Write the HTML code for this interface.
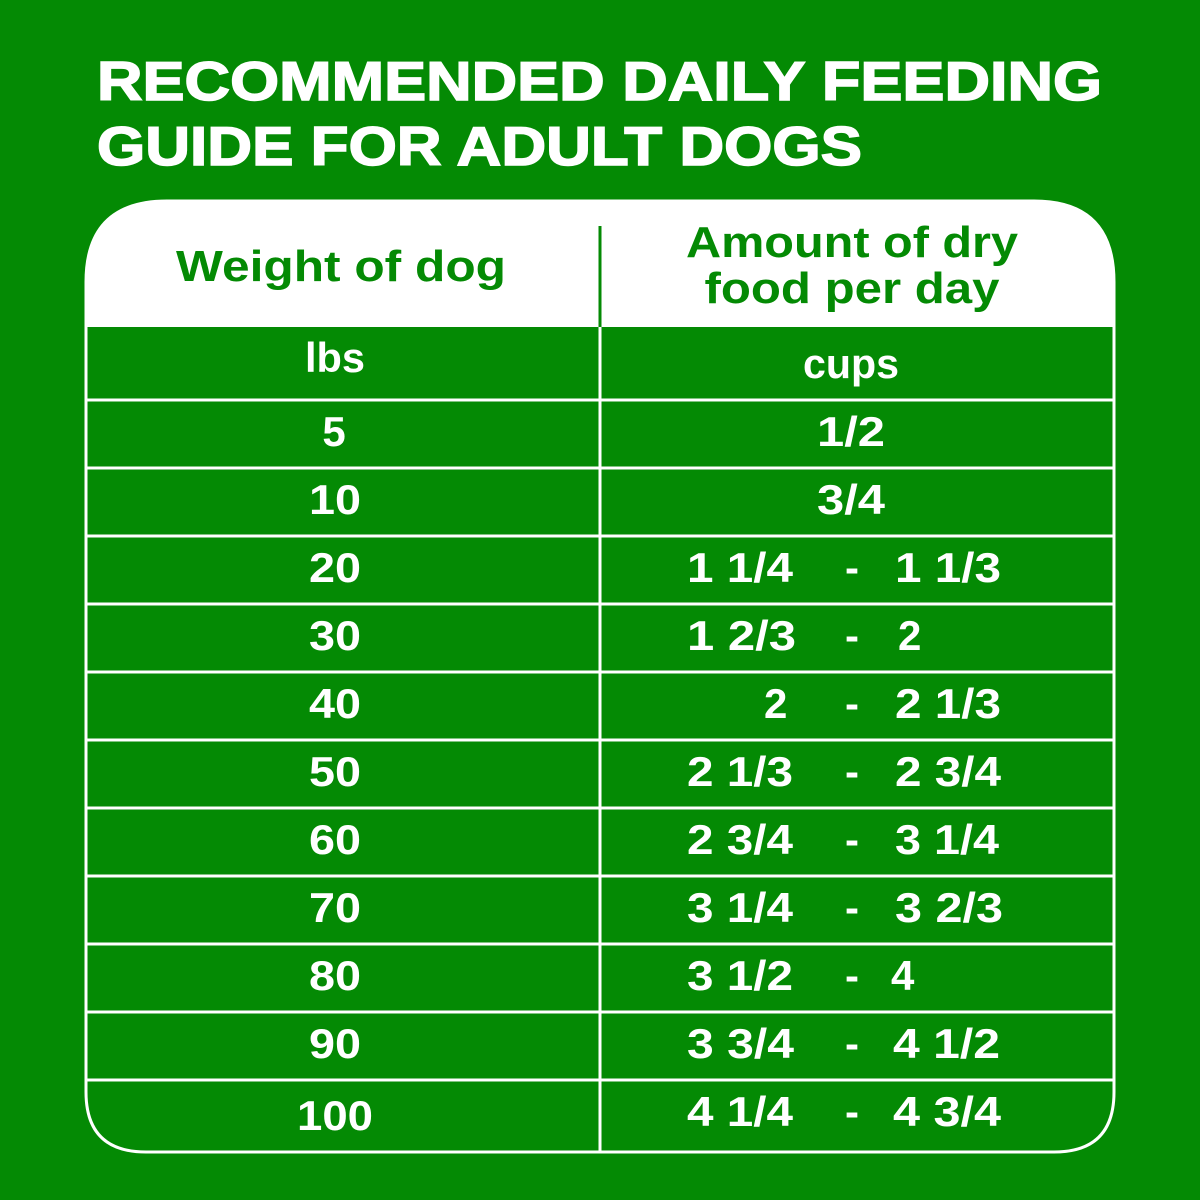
<!DOCTYPE html>
<html><head><meta charset="utf-8"><style>
html,body{margin:0;padding:0;background:#048a04;}
svg{display:block}
text{font-family:"Liberation Sans",sans-serif;font-weight:bold;}
</style></head><body>
<svg width="1200" height="1200" viewBox="0 0 1200 1200" xmlns="http://www.w3.org/2000/svg">
<rect width="1200" height="1200" fill="#048a04"/>
<text x="97" y="100" font-size="55" fill="#fff" textLength="1005" lengthAdjust="spacingAndGlyphs" stroke="#fff" stroke-width="1.5">RECOMMENDED DAILY FEEDING</text>
<text x="97" y="165" font-size="55" fill="#fff" textLength="765" lengthAdjust="spacingAndGlyphs" stroke="#fff" stroke-width="1.5">GUIDE FOR ADULT DOGS</text>
<path d="M86,1092 L86,282 Q86,201 167,201 L1034,201 Q1114,201 1114,282 L1114,1092 Q1114,1152 1054,1152 L146,1152 Q86,1152 86,1092 Z" fill="#048a04" stroke="#fff" stroke-width="3"/>
<path d="M86,327 L86,282 Q86,201 167,201 L1034,201 Q1114,201 1114,282 L1114,327 Z" fill="#fff"/>
<line x1="600" y1="226" x2="600" y2="327" stroke="#048a04" stroke-width="3"/>
<line x1="600" y1="327" x2="600" y2="1152" stroke="#fff" stroke-width="3"/>
<g stroke="#fff" stroke-width="3">
<line x1="86" y1="400" x2="1114" y2="400"/>
<line x1="86" y1="468" x2="1114" y2="468"/>
<line x1="86" y1="536" x2="1114" y2="536"/>
<line x1="86" y1="604" x2="1114" y2="604"/>
<line x1="86" y1="672" x2="1114" y2="672"/>
<line x1="86" y1="740" x2="1114" y2="740"/>
<line x1="86" y1="808" x2="1114" y2="808"/>
<line x1="86" y1="876" x2="1114" y2="876"/>
<line x1="86" y1="944" x2="1114" y2="944"/>
<line x1="86" y1="1012" x2="1114" y2="1012"/>
<line x1="86" y1="1080" x2="1114" y2="1080"/>
</g>
<text x="341" y="281" font-size="44" fill="#048a04" text-anchor="middle" textLength="330" lengthAdjust="spacingAndGlyphs">Weight of dog</text>
<text x="852" y="257" font-size="44" fill="#048a04" text-anchor="middle" textLength="332" lengthAdjust="spacingAndGlyphs">Amount of dry</text>
<text x="852" y="303" font-size="44" fill="#048a04" text-anchor="middle" textLength="295" lengthAdjust="spacingAndGlyphs">food per day</text>
<g font-size="42" fill="#fff" text-anchor="middle" lengthAdjust="spacingAndGlyphs">
<text x="335" y="372" textLength="60" lengthAdjust="spacingAndGlyphs">lbs</text>
<text x="851" y="378" textLength="96" lengthAdjust="spacingAndGlyphs">cups</text>
<text x="334" y="446">5</text><text x="851" y="446" textLength="68" lengthAdjust="spacingAndGlyphs">1/2</text>
<text x="335" y="514" textLength="52" lengthAdjust="spacingAndGlyphs">10</text><text x="851" y="514" textLength="68" lengthAdjust="spacingAndGlyphs">3/4</text>
<text x="335" y="582" textLength="52" lengthAdjust="spacingAndGlyphs">20</text>
<text x="335" y="650" textLength="52" lengthAdjust="spacingAndGlyphs">30</text>
<text x="335" y="718" textLength="52" lengthAdjust="spacingAndGlyphs">40</text>
<text x="335" y="786" textLength="52" lengthAdjust="spacingAndGlyphs">50</text>
<text x="335" y="854" textLength="52" lengthAdjust="spacingAndGlyphs">60</text>
<text x="335" y="922" textLength="52" lengthAdjust="spacingAndGlyphs">70</text>
<text x="335" y="990" textLength="52" lengthAdjust="spacingAndGlyphs">80</text>
<text x="335" y="1058" textLength="52" lengthAdjust="spacingAndGlyphs">90</text>
<text x="335" y="1130" textLength="76" lengthAdjust="spacingAndGlyphs">100</text>
</g>
<g font-size="42" fill="#fff">
<text x="687" y="582" textLength="106" lengthAdjust="spacingAndGlyphs">1 1/4</text><text x="845" y="582">-</text><text x="895" y="582" textLength="106" lengthAdjust="spacingAndGlyphs">1 1/3</text>
<text x="687" y="650" textLength="109" lengthAdjust="spacingAndGlyphs">1 2/3</text><text x="845" y="650">-</text><text x="898" y="650">2</text>
<text x="764" y="718">2</text><text x="845" y="718">-</text><text x="895" y="718" textLength="106" lengthAdjust="spacingAndGlyphs">2 1/3</text>
<text x="687" y="786" textLength="106" lengthAdjust="spacingAndGlyphs">2 1/3</text><text x="845" y="786">-</text><text x="895" y="786" textLength="106" lengthAdjust="spacingAndGlyphs">2 3/4</text>
<text x="687" y="854" textLength="106" lengthAdjust="spacingAndGlyphs">2 3/4</text><text x="845" y="854">-</text><text x="895" y="854" textLength="104" lengthAdjust="spacingAndGlyphs">3 1/4</text>
<text x="687" y="922" textLength="106" lengthAdjust="spacingAndGlyphs">3 1/4</text><text x="845" y="922">-</text><text x="895" y="922" textLength="108" lengthAdjust="spacingAndGlyphs">3 2/3</text>
<text x="687" y="990" textLength="106" lengthAdjust="spacingAndGlyphs">3 1/2</text><text x="845" y="990">-</text><text x="891" y="990">4</text>
<text x="687" y="1058" textLength="107" lengthAdjust="spacingAndGlyphs">3 3/4</text><text x="845" y="1058">-</text><text x="893" y="1058" textLength="107" lengthAdjust="spacingAndGlyphs">4 1/2</text>
<text x="687" y="1126" textLength="106" lengthAdjust="spacingAndGlyphs">4 1/4</text><text x="845" y="1126">-</text><text x="893" y="1126" textLength="108" lengthAdjust="spacingAndGlyphs">4 3/4</text>
</g>
</svg>
</body></html>
